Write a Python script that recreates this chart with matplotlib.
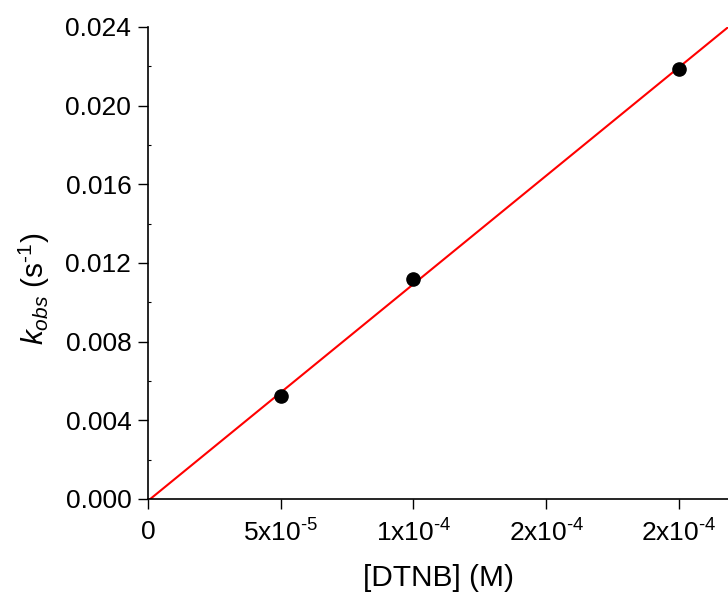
import numpy as np
import matplotlib
matplotlib.use("Agg")
import matplotlib.pyplot as plt

plt.rcParams['font.family'] = ['Liberation Sans', 'DejaVu Sans']
plt.rcParams['mathtext.fontset'] = 'custom'
plt.rcParams['mathtext.rm'] = 'Liberation Sans'
plt.rcParams['mathtext.it'] = 'Liberation Sans:italic'
plt.rcParams['mathtext.bf'] = 'Liberation Sans:bold'

# DTNB concentration (M) and observed rate constants (s^-1)
dtnb = [5e-5, 1e-4, 2e-4]
k_obs = [0.00524, 0.01119, 0.02186]

x_ticks = [0, 5e-5, 1e-4, 1.5e-4, 2e-4]
x_tick_labels = ['0', r'5x10$^{\text{-}5}$', r'1x10$^{\text{-}4}$',
                 r'2x10$^{\text{-}4}$', r'2x10$^{\text{-}4}$']
y_ticks = [0.000, 0.004, 0.008, 0.012, 0.016, 0.020, 0.024]
y_tick_labels = ['0.000', '0.004', '0.008', '0.012', '0.016', '0.020', '0.024']

x_max = 2.185e-4

fig = plt.figure(figsize=(7.28, 5.97), dpi=100)
ax = fig.add_axes([0.2033, 0.1642, 0.7967, 0.7906])

# linear fit
slope, intercept = np.polyfit(dtnb, k_obs, 1)
xf = np.array([0.0, x_max])
ax.plot(xf, slope * xf + intercept, color='#ff0000', lw=1.5, zorder=2)
ax.plot(dtnb, k_obs, 'o', color='black', ms=9.5, zorder=3)

ax.set_xlim(0, x_max)
ax.set_ylim(0, 0.024)

ax.set_xticks(x_ticks)
ax.set_xticklabels(x_tick_labels)
ax.set_yticks(y_ticks)
ax.set_yticklabels(y_tick_labels)
ax.set_yticks(np.arange(0.002, 0.024, 0.004), minor=True)

ax.tick_params(axis='both', which='major', direction='out', length=7, width=1,
               labelsize=19)
ax.tick_params(axis='y', which='major', pad=5)
ax.tick_params(axis='x', which='major', pad=8)
ax.tick_params(axis='y', which='minor', direction='in', length=2, width=0.8)
ax.tick_params(axis='x', which='minor', bottom=False)

for s in ['top', 'right']:
    ax.spines[s].set_visible(False)
for s in ['left', 'bottom']:
    ax.spines[s].set_linewidth(1.2)

ax.set_xlabel('[DTNB] (M)', fontsize=21.5, labelpad=12)
ax.set_ylabel(r'$k_{obs}$ (s$^{\text{-}1}$)', fontsize=21.5)
ax.yaxis.set_label_coords(-0.165, 0.445)

fig.savefig('out.png', dpi=100)
